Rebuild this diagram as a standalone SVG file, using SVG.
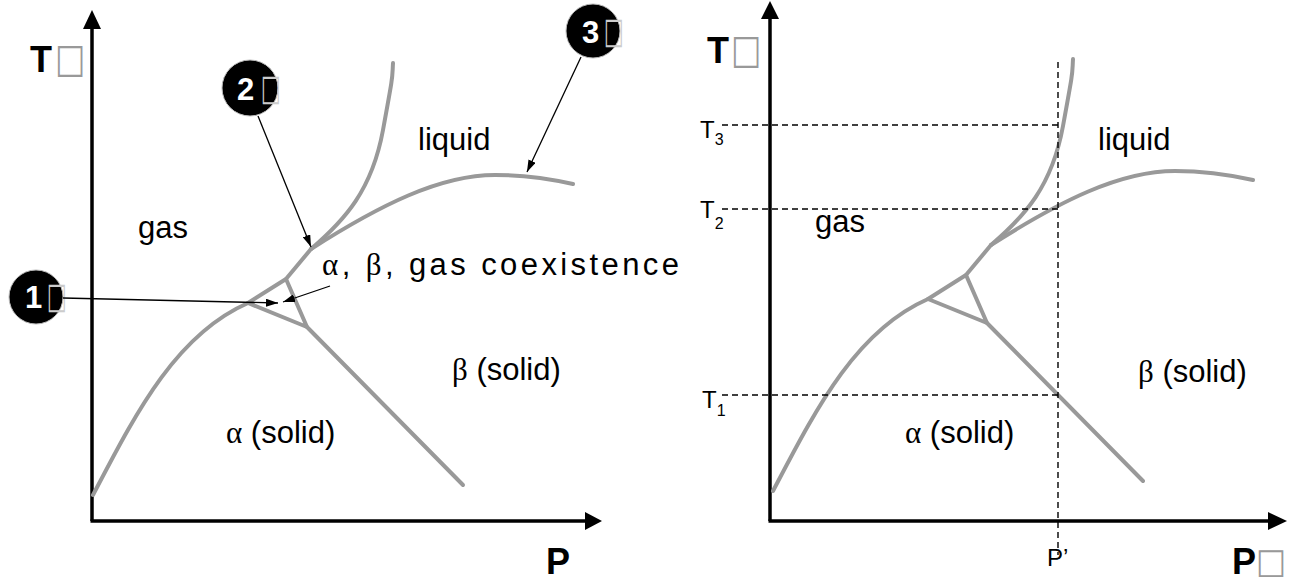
<svg xmlns="http://www.w3.org/2000/svg" width="1289" height="581" viewBox="0 0 1289 581">
<style>
.ax{stroke:#000;stroke-width:3.5;fill:none}
.ah{fill:#000}
.cv{stroke:#999;stroke-width:4;fill:none;stroke-linejoin:round;stroke-linecap:round}
.ld{stroke:#000;stroke-width:1.3;fill:none}
.dash{stroke:#000;stroke-width:1.4;stroke-dasharray:6,4;fill:none}
.lbl{font-family:"Liberation Sans",Arial,sans-serif;font-size:31px;fill:#000}
.gr{font-family:"Liberation Serif","Times New Roman",serif}
.big{font-family:"Liberation Sans",Arial,sans-serif;font-size:36px;font-weight:bold;fill:#000}
.box{font-family:"DejaVu Sans",sans-serif;font-size:32px;fill:#999}
.wbox{font-family:"DejaVu Sans",sans-serif;font-size:28px;fill:#ccc}
.num{font-family:"Liberation Sans",Arial,sans-serif;font-size:31px;font-weight:bold;fill:#fff}
.tk{font-family:"Liberation Sans",Arial,sans-serif;font-size:24px;fill:#000}
.sub{font-size:16px}
.cc{fill:#000;stroke:#bbb;stroke-width:1}
</style>
<defs>
<marker id="arr" viewBox="0 0 12 8" refX="12" refY="4" markerWidth="12" markerHeight="8" markerUnits="userSpaceOnUse" orient="auto">
<path d="M0,0 L12,4 L0,8 Z" fill="#000"/>
</marker>
</defs>
<g id="left-axes">
<line class="ax" x1="92" y1="521" x2="92" y2="27"/>
<polygon class="ah" points="92,10 83,29 101,29"/>
<line class="ax" x1="90.5" y1="521" x2="586" y2="521"/>
<polygon class="ah" points="602,521 585,512 585,530"/>
<text class="big" x="30" y="72">T</text>
<text class="box" transform="translate(55,72) scale(1,1.25)">□</text>
<text class="big" x="546" y="574" font-size="33">P</text>
</g>
<g id="left-curves">
<path class="cv" d="M93,495 C135,415 175,335 248,303 L286,279 L311,249"/>
<path class="cv" d="M311,249 C345,220 372,190 383,130 S392,80 393,63"/>
<path class="cv" d="M311,249 C380,205 440,175 495,175 C530,175 555,180 573,184"/>
<path class="cv" d="M248,303 L307,327 L286,279"/>
<path class="cv" d="M307,327 L463,485"/>
</g>
<g id="left-labels">
<text class="lbl" x="418" y="150">liquid</text>
<text class="lbl" x="138" y="238">gas</text>
<text class="lbl" x="322" y="275" textLength="357" lengthAdjust="spacing"><tspan class="gr">α</tspan>, <tspan class="gr">β</tspan>, gas coexistence</text>
<text class="lbl" x="452" y="380"><tspan class="gr">β</tspan> (solid)</text>
<text class="lbl" x="226" y="443"><tspan class="gr">α</tspan> (solid)</text>
</g>
<g id="callout-1">
<circle class="cc" cx="36" cy="297" r="27"/>
<text class="num" x="25" y="308">1</text>
<text class="wbox" transform="translate(47,308) scale(0.75,1.3)">□</text>
</g>
<g id="callout-2">
<circle class="cc" cx="250" cy="88" r="28"/>
<text class="num" x="237" y="100">2</text>
<text class="wbox" transform="translate(261,100) scale(0.75,1.3)">□</text>
</g>
<g id="callout-3">
<circle class="cc" cx="593" cy="31" r="27"/>
<text class="num" x="582" y="43">3</text>
<text class="wbox" transform="translate(604,43) scale(0.75,1.3)">□</text>
</g>
<g id="connectors">
<line class="ld" x1="63" y1="298" x2="278" y2="303" marker-end="url(#arr)"/>
<line class="ld" x1="330" y1="286" x2="283" y2="302" marker-end="url(#arr)"/>
<line class="ld" x1="258" y1="116" x2="311" y2="247" marker-end="url(#arr)"/>
<line class="ld" x1="581" y1="57" x2="527" y2="172" marker-end="url(#arr)"/>
</g>
<g id="right-axes">
<line class="ax" x1="770" y1="521" x2="770" y2="17"/>
<polygon class="ah" points="770,1 761,19 779,19"/>
<line class="ax" x1="768.5" y1="521" x2="1270" y2="521"/>
<polygon class="ah" points="1287,521 1268,512 1268,530"/>
<text class="big" x="707" y="63">T</text>
<text class="box" transform="translate(731,63) scale(1,1.25)">□</text>
<text class="big" x="1232" y="574" font-size="33">P</text>
<text class="box" transform="translate(1256,573) scale(1,1.1)">□</text>
</g>
<g id="right-curves">
<path class="cv" d="M773,491 C815,411 855,331 928,299 L966,275 L991,245"/>
<path class="cv" d="M991,245 C1025,216 1052,186 1063,126 S1072,76 1073,59"/>
<path class="cv" d="M991,245 C1060,201 1120,171 1175,171 C1210,171 1235,176 1253,180"/>
<path class="cv" d="M928,299 L987,323 L966,275"/>
<path class="cv" d="M987,323 L1143,481"/>
</g>
<g id="right-guides">
<line class="dash" x1="1058" y1="62" x2="1058" y2="555"/>
<line class="dash" x1="722" y1="125" x2="1058" y2="125"/>
<line class="dash" x1="722" y1="209" x2="1058" y2="209"/>
<line class="dash" x1="722" y1="395" x2="1058" y2="395"/>
<text class="tk" x="700" y="138">T<tspan class="sub" dy="7">3</tspan></text>
<text class="tk" x="700" y="218">T<tspan class="sub" dy="11">2</tspan></text>
<text class="tk" x="702" y="408">T<tspan class="sub" dy="8">1</tspan></text>
<text class="tk" x="1047" y="566" font-size="20">P’</text>
</g>
<g id="right-labels">
<text class="lbl" x="1098" y="150">liquid</text>
<text class="lbl" x="815" y="232">gas</text>
<text class="lbl" x="1138" y="382"><tspan class="gr">β</tspan> (solid)</text>
<text class="lbl" x="905" y="443"><tspan class="gr">α</tspan> (solid)</text>
</g>
</svg>
